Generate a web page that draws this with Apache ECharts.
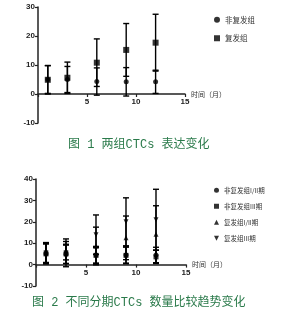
<!DOCTYPE html>
<html><head><meta charset="utf-8">
<script src="https://cdn.jsdelivr.net/npm/echarts@6/dist/echarts.min.js"></script>
<style>html,body{margin:0;padding:0;background:#fff}#c{width:291px;height:312px}</style>
</head><body><div id="c"></div>
<script>
var months = [1, 3, 6, 9, 12];
var xTicks = [0, 5, 10, 15];
// Figure 1
var nonRelapseMean = [5.0, 5.0, 4.3, 4.2, 4.2];
var nonRelapseSD = [4.8, 4.5, 4.7, 4.9, 4.0];
var relapseMean = [4.9, 5.6, 10.8, 15.2, 17.7];
var relapseSD = [4.9, 5.4, 8.2, 9.1, 9.8];
// Figure 2
var nr12Mean = [5.2, 4.8, 4.5, 4.5, 4.5];
var nr12SD = [4.8, 4.3, 4.0, 3.8, 3.6];
var nr3Mean = [5.0, 5.0, 4.3, 4.3, 3.6];
var nr3SD = [4.6, 4.5, 3.6, 3.9, 3.1];
var r12Mean = [5.5, 6.5, 8.7, 12.5, 14.2];
var r12SD = [4.8, 4.3, 8.8, 10.2, 13.3];
var r3Mean = [5.5, 5.5, 14.0, 20.0, 21.0];
var r3SD = [4.5, 6.5, 9.2, 11.2, 14.2];

var names1 = ['非复发组', '复发组'];
var names2 = ['非复发组I/II期', '非复发组III期', '复发组I/II期', '复发组III期'];

function pts(mean){ return months.map(function(m,i){ return [m, mean[i]]; }); }
function bars(mean, sd){ return months.map(function(m,i){ return [m, mean[i]-sd[i], mean[i]+sd[i]]; }); }

function errSeries(mean, sd, gi){
  return {
    type: 'custom', xAxisIndex: gi, yAxisIndex: gi, silent: true,
    data: bars(mean, sd),
    renderItem: function(params, api){
      var lo = api.coord([api.value(0), api.value(1)]);
      var hi = api.coord([api.value(0), api.value(2)]);
      var w = 3;
      var st = {stroke: '#000', lineWidth: 1.4};
      return {type: 'group', children: [
        {type: 'line', shape: {x1: lo[0], y1: lo[1], x2: hi[0], y2: hi[1]}, style: st},
        {type: 'line', shape: {x1: lo[0]-w, y1: lo[1], x2: lo[0]+w, y2: lo[1]}, style: st},
        {type: 'line', shape: {x1: hi[0]-w, y1: hi[1], x2: hi[0]+w, y2: hi[1]}, style: st}
      ]};
    },
    z: 2
  };
}
function scat(name, mean, sym, size, gi){
  return {type: 'scatter', name: name, xAxisIndex: gi, yAxisIndex: gi,
    data: pts(mean), symbol: sym, symbolSize: size,
    itemStyle: {color: '#000'}, z: 3};
}

var lbl = {fontFamily: 'Liberation Sans, Arial', fontWeight: 'bold', fontSize: 8, color: '#222'};
function xAx(gi, off){
  return {type: 'value', gridIndex: gi, min: 0, max: 15, interval: 5, position: 'bottom', offset: off,
    axisLine: {onZero: false, lineStyle: {color: '#222', width: 1.5}},
    axisTick: {show: true, length: 3, lineStyle: {color: '#222', width: 1.2}},
    splitLine: {show: false},
    axisLabel: Object.assign({margin: 4, formatter: function(v){ return xTicks.indexOf(v) > 0 ? String(v) : ''; }}, lbl),
    name: '时间（月）', nameLocation: 'end', nameGap: 6,
    nameTextStyle: {fontFamily: 'Noto Sans CJK SC', fontSize: 7, color: '#333'}
  };
}
function yAx(gi, max){
  return {type: 'value', gridIndex: gi, min: -10, max: max, interval: 10,
    axisLine: {show: true, onZero: false, lineStyle: {color: '#222', width: 1.5}},
    axisTick: {show: true, length: 3, lineStyle: {color: '#222', width: 1.2}},
    splitLine: {show: false},
    axisLabel: Object.assign({margin: 3}, lbl)
  };
}

var capFont = '12px "Liberation Mono", "Noto Sans CJK SC"';
var chart = echarts.init(document.getElementById('c'), null, {renderer: 'canvas'});
chart.setOption({
  animation: false,
  backgroundColor: '#fff',
  grid: [
    {left: 38, top: 7, width: 147, height: 116},
    {left: 36, top: 179, width: 150, height: 107}
  ],
  xAxis: [xAx(0, -29), xAx(1, -21.4)],
  yAxis: [yAx(0, 30), yAx(1, 40)],
  legend: [
    {data: names1, orient: 'vertical', left: 209, top: 11, itemWidth: 6, itemHeight: 6, itemGap: 11,
     textStyle: {fontFamily: 'Noto Sans CJK SC', fontSize: 7.5, color: '#333'}},
    {data: names2, orient: 'vertical', left: 209, top: 182, itemWidth: 5, itemHeight: 5, itemGap: 9.5,
     textStyle: {fontFamily: 'Noto Sans CJK SC', fontSize: 6.5, color: '#333'}}
  ],
  graphic: [
    {type: 'text', left: 68, top: 139, style: {text: '图 1 两组CTCs 表达变化', font: capFont, fill: '#2a7a4a'}},
    {type: 'text', left: 32, top: 297, style: {text: '图 2 不同分期CTCs 数量比较趋势变化', font: capFont, fill: '#2a7a4a'}}
  ],
  series: [
    errSeries(nonRelapseMean, nonRelapseSD, 0),
    errSeries(relapseMean, relapseSD, 0),
    scat(names1[0], nonRelapseMean, 'circle', 5, 0),
    scat(names1[1], relapseMean, 'rect', 6, 0),
    errSeries(nr12Mean, nr12SD, 1),
    errSeries(nr3Mean, nr3SD, 1),
    errSeries(r12Mean, r12SD, 1),
    errSeries(r3Mean, r3SD, 1),
    scat(names2[0], nr12Mean, 'circle', 5, 1),
    scat(names2[1], nr3Mean, 'rect', 5, 1),
    scat(names2[2], r12Mean, 'triangle', 5, 1),
    scat(names2[3], r3Mean, 'path://M0,0 L10,0 L5,10 Z', 5, 1)
  ]
});
</script></body></html>
